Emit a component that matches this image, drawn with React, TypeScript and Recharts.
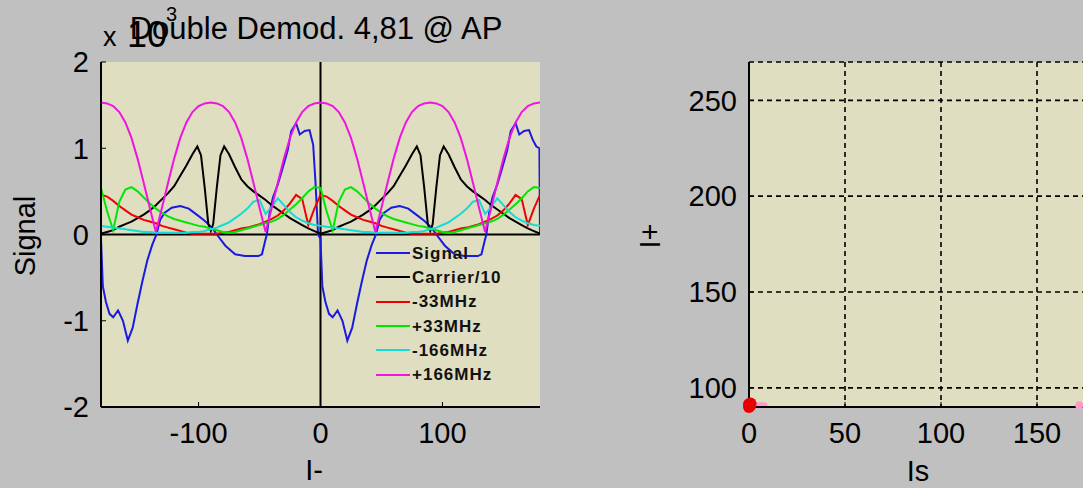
import React from 'react';
import {
  LineChart, Line, XAxis, YAxis, CartesianGrid, ReferenceLine, Legend,
  ComposedChart, Scatter,
} from 'recharts';

const FONT = '"Liberation Sans", Arial, sans-serif';
const PAGE_BG = '#c0c0c0';
const PLOT_BG = '#dfdec0';

// x grid (step 5) for the smooth sideband curves
const gridX = [
  -180, -175, -170, -165, -160, -155, -150, -145, -140, -135, -130, -125, -120, -115, -110, -105, -100, -95, -90,
  -85, -80, -75, -70, -65, -60, -55, -50, -45, -40, -35, -30, -25, -20, -15, -10, -5, 0,
  5, 10, 15, 20, 25, 30, 35, 40, 45, 50, 55, 60, 65, 70, 75, 80, 85, 90,
  95, 100, 105, 110, 115, 120, 125, 130, 135, 140, 145, 150, 155, 160, 165, 170, 175, 180,
];

const minus33 = [
  0.46, 0.44, 0.39, 0.33, 0.28, 0.23, 0.20, 0.17, 0.15, 0.13, 0.10, 0.08, 0.06, 0.04, 0.02, 0.01, 0.01, 0.01, 0.01,
  0.01, 0.02, 0.03, 0.05, 0.07, 0.08, 0.10, 0.12, 0.15, 0.18, 0.22, 0.28, 0.36, 0.46, 0.41, 0.11, 0.30, 0.46,
  0.44, 0.39, 0.33, 0.28, 0.23, 0.20, 0.17, 0.15, 0.13, 0.10, 0.08, 0.06, 0.04, 0.02, 0.01, 0.01, 0.01, 0.01,
  0.01, 0.02, 0.03, 0.05, 0.07, 0.08, 0.10, 0.12, 0.15, 0.18, 0.22, 0.28, 0.36, 0.46, 0.41, 0.11, 0.30, 0.46,
];

const plus33 = [
  0.54, 0.27, 0.05, 0.38, 0.52, 0.55, 0.50, 0.43, 0.36, 0.30, 0.25, 0.21, 0.18, 0.16, 0.14, 0.12, 0.10, 0.09, 0.07,
  0.05, 0.03, 0.02, 0.03, 0.05, 0.07, 0.09, 0.11, 0.13, 0.15, 0.18, 0.23, 0.29, 0.35, 0.42, 0.50, 0.55, 0.54,
  0.27, 0.05, 0.38, 0.52, 0.55, 0.50, 0.43, 0.36, 0.30, 0.25, 0.21, 0.18, 0.16, 0.14, 0.12, 0.10, 0.09, 0.07,
  0.05, 0.03, 0.02, 0.03, 0.05, 0.07, 0.09, 0.11, 0.13, 0.15, 0.18, 0.23, 0.29, 0.35, 0.42, 0.50, 0.55, 0.54,
];

const minus166 = [
  0.10, 0.09, 0.08, 0.07, 0.06, 0.05, 0.04, 0.03, 0.03, 0.02, 0.02, 0.02, 0.02, 0.02, 0.02, 0.03, 0.03, 0.04, 0.06,
  0.08, 0.11, 0.14, 0.19, 0.24, 0.30, 0.38, 0.40, 0.24, 0.32, 0.42, 0.34, 0.26, 0.20, 0.16, 0.13, 0.11, 0.10,
  0.09, 0.08, 0.07, 0.06, 0.05, 0.04, 0.03, 0.03, 0.02, 0.02, 0.02, 0.02, 0.02, 0.02, 0.03, 0.03, 0.04, 0.06,
  0.08, 0.11, 0.14, 0.19, 0.24, 0.30, 0.38, 0.40, 0.24, 0.32, 0.42, 0.34, 0.26, 0.20, 0.16, 0.13, 0.11, 0.10,
];

const plus166 = [
  1.53, 1.52, 1.49, 1.42, 1.30, 1.12, 0.88, 0.60, 0.31, 0.03, 0.31, 0.60, 0.88, 1.12, 1.30, 1.42, 1.49, 1.52, 1.53,
  1.52, 1.49, 1.42, 1.30, 1.12, 0.88, 0.60, 0.31, 0.03, 0.31, 0.60, 0.88, 1.12, 1.30, 1.42, 1.49, 1.52, 1.53,
  1.52, 1.49, 1.42, 1.30, 1.12, 0.88, 0.60, 0.31, 0.03, 0.31, 0.60, 0.88, 1.12, 1.30, 1.42, 1.49, 1.52, 1.53,
  1.52, 1.49, 1.42, 1.30, 1.12, 0.88, 0.60, 0.31, 0.03, 0.31, 0.60, 0.88, 1.12, 1.30, 1.42, 1.49, 1.52, 1.53,
];

// carrier has a narrow notch between its two peaks, so it gets its own x values
const carrierX = [
  -180, -175, -170, -165, -160, -155, -150, -145, -140, -135, -130, -125, -120, -115, -110, -105, -101, -98, -95, -92,
  -90, -88, -85, -82, -79, -75, -70, -65, -60, -55, -50, -45, -40, -35, -30, -25, -20, -15, -10, -5, 0,
  5, 10, 15, 20, 25, 30, 35, 40, 45, 50, 55, 60, 65, 70, 75, 79, 82, 85, 88,
  90, 92, 95, 98, 101, 105, 110, 115, 120, 125, 130, 135, 140, 145, 150, 155, 160, 165, 170, 175, 180,
];
const carrierY = [
  0.01, 0.03, 0.05, 0.09, 0.12, 0.15, 0.19, 0.23, 0.28, 0.34, 0.41, 0.48, 0.56, 0.68, 0.80, 0.93, 1.02, 0.92, 0.55, 0.12,
  0.04, 0.12, 0.55, 0.92, 1.02, 0.93, 0.78, 0.64, 0.56, 0.50, 0.45, 0.40, 0.34, 0.29, 0.24, 0.19, 0.15, 0.11, 0.07, 0.04, 0.01,
  0.03, 0.05, 0.09, 0.12, 0.15, 0.19, 0.23, 0.28, 0.34, 0.41, 0.48, 0.56, 0.68, 0.80, 0.93, 1.02, 0.92, 0.55, 0.12,
  0.04, 0.12, 0.55, 0.92, 1.02, 0.93, 0.78, 0.64, 0.56, 0.50, 0.45, 0.40, 0.34, 0.29, 0.24, 0.19, 0.15, 0.11, 0.07, 0.04, 0.01,
];

const signalX = [
  -180, -178.5, -176, -173, -170, -166, -162, -158, -154, -150, -146, -142, -138, -134.5, -131.5,
  -128, -122, -115, -108, -101.5, -95, -89, -85, -78, -70, -62, -51, -48, -45.5, -44,
  -41.5, -39, -35, -31, -27, -24, -20, -17, -13, -9, -6, -4, -2,
  0, 1.5, 4, 7, 10, 14, 18, 22, 26, 30, 34, 38, 42, 45.5, 48.5,
  52, 58, 65, 72, 78.5, 85, 91, 95, 102, 110, 118, 129, 132, 134.5, 136,
  138.5, 141, 145, 149, 153, 156, 160, 163, 167, 171, 174, 177, 179.5, 180,
];
const signalY = [
  -0.05, -0.60, -0.78, -0.92, -0.96, -0.88, -1.00, -1.23, -1.08, -0.80, -0.54, -0.30, -0.12, 0.00, 0.17,
  0.25, 0.31, 0.33, 0.30, 0.23, 0.16, 0.08, 0.00, -0.13, -0.23, -0.25, -0.25, -0.23, -0.08, 0.00,
  0.27, 0.43, 0.58, 0.77, 0.97, 1.20, 1.29, 1.16, 1.20, 1.21, 1.04, 0.58, 0.00,
  -0.05, -0.60, -0.78, -0.92, -0.96, -0.88, -1.00, -1.23, -1.08, -0.80, -0.54, -0.30, -0.12, 0.00, 0.17,
  0.25, 0.31, 0.33, 0.30, 0.23, 0.16, 0.08, 0.00, -0.13, -0.23, -0.25, -0.25, -0.23, -0.08, 0.00,
  0.27, 0.43, 0.58, 0.77, 0.97, 1.20, 1.29, 1.16, 1.20, 1.21, 1.10, 1.02, 1.00, 0.00,
];

const leftXTicks = [-100, 0, 100];
const leftYTicks = [-2, -1, 0, 1, 2];

// right panel: Is vs I+
const isTicks = [0, 50, 100, 150];
const ipTicks = [100, 150, 200, 250];
const redBlobX = [0, 0.6, 0, 0.8];
const redBlobY = [91.4, 90.6, 90.0, 91.8];
const pinkSegX = [0, 8];
const pinkSegY = [90.9, 90.9];
const pinkDotX = [172];
const pinkDotY = [90.9];

const zip = (xs: number[], ys: number[]) => xs.map((x, i) => ({ x, y: ys[i] }));

const series = [
  { name: 'Signal', color: '#1a1ae0', data: zip(signalX, signalY) },
  { name: 'Carrier/10', color: '#000000', data: zip(carrierX, carrierY) },
  { name: '-33MHz', color: '#f00000', data: zip(gridX, minus33) },
  { name: '+33MHz', color: '#00e600', data: zip(gridX, plus33) },
  { name: '-166MHz', color: '#12dcd4', data: zip(gridX, minus166) },
  { name: '+166MHz', color: '#f014e0', data: zip(gridX, plus166) },
];
const legendOrder = series.map((s) => s.name);

const tickStyle = { fill: '#000', fontSize: 29 };
const boxLine = { stroke: '#000', strokeWidth: 2 };

const LegendBox = (props: any) => {
  const items = [...(props.payload || [])].sort(
    (a: any, b: any) => legendOrder.indexOf(a.value) - legendOrder.indexOf(b.value),
  );
  return (
    <div style={{ fontFamily: FONT, fontSize: 17, fontWeight: 600, letterSpacing: 1, color: '#111' }}>
      {items.map((it: any) => (
        <div key={it.value} style={{ display: 'flex', alignItems: 'center', height: 24.3 }}>
          <svg width={34} height={4} style={{ display: 'block' }}>
            <line x1={0} y1={2} x2={34} y2={2} stroke={it.color} strokeWidth={2} />
          </svg>
          <span style={{ marginLeft: 2, lineHeight: 1 }}>{it.value}</span>
        </div>
      ))}
    </div>
  );
};

const txt = (extra: React.CSSProperties): React.CSSProperties => ({
  position: 'absolute', fontFamily: FONT, color: '#000', lineHeight: 1, whiteSpace: 'nowrap', ...extra,
});

export default function App() {
  return (
    <div style={{ position: 'fixed', left: 0, top: 0, width: 1083, height: 488, overflow: 'hidden', background: PAGE_BG, fontFamily: FONT }}>
      <div style={{ position: 'absolute', left: 0, top: 0 }}>
        <LineChart width={560} height={488} margin={{ top: 62, right: 20, bottom: 41, left: 0 }}>
          <CartesianGrid horizontal={false} vertical={false} fill={PLOT_BG} />
          <XAxis dataKey="x" type="number" domain={[-180, 180]} allowDataOverflow ticks={leftXTicks}
            height={40} tickSize={-5} tickMargin={20} axisLine={boxLine} tickLine={{ stroke: '#000' }} tick={tickStyle} />
          <XAxis xAxisId="top" orientation="top" type="number" domain={[-180, 180]} allowDataOverflow ticks={leftXTicks}
            height={0} tickSize={-5} tick={false} axisLine={boxLine} tickLine={{ stroke: '#000' }} />
          <YAxis type="number" domain={[-2, 2]} allowDataOverflow ticks={leftYTicks} width={101}
            tickSize={-5} tickMargin={17} axisLine={boxLine} tickLine={{ stroke: '#000' }} tick={tickStyle} />
          <YAxis yAxisId="right" orientation="right" type="number" domain={[-2, 2]} allowDataOverflow ticks={leftYTicks}
            width={0} tickSize={-5} tick={false} axisLine={boxLine} tickLine={{ stroke: '#000' }} />
          <ReferenceLine x={0} stroke="#000" strokeWidth={2} />
          <ReferenceLine y={0} stroke="#000" strokeWidth={2} />
          {series.map((s) => (
            <Line key={s.name} data={s.data} dataKey="y" name={s.name} stroke={s.color} strokeWidth={2}
              dot={false} type="linear" isAnimationActive={false} />
          ))}
          <Legend content={LegendBox} layout="vertical" align="center" verticalAlign="middle"
            wrapperStyle={{ left: 376, top: 241, width: 'auto' }} />
        </LineChart>
      </div>

      <div style={{ position: 'absolute', left: 600, top: 0 }}>
        <ComposedChart width={600} height={488} margin={{ top: 62, right: 67, bottom: 41, left: 49 }}>
          <CartesianGrid strokeDasharray="5 4" stroke="#000" strokeWidth={1.6} fill={PLOT_BG} />
          <XAxis dataKey="x" type="number" domain={[0, 200]} ticks={isTicks}
            height={40} tickSize={-5} tickMargin={20} axisLine={boxLine} tickLine={{ stroke: '#000' }} tick={tickStyle} />
          <XAxis xAxisId="top" orientation="top" type="number" domain={[0, 200]} ticks={isTicks}
            height={0} tickSize={-5} tick={false} axisLine={boxLine} tickLine={{ stroke: '#000' }} />
          <YAxis type="number" domain={[90, 270]} ticks={ipTicks} width={100}
            tickSize={-5} tickMargin={17} axisLine={boxLine} tickLine={{ stroke: '#000' }} tick={tickStyle} />
          <Scatter data={zip(redBlobX, redBlobY)} dataKey="y" isAnimationActive={false}
            shape={(p: any) => <circle cx={p.cx} cy={p.cy} r={6} fill="#e80000" />} />
          <Line data={zip(pinkSegX, pinkSegY)} dataKey="y" stroke="#ff9acb" strokeWidth={6} strokeLinecap="round"
            dot={false} isAnimationActive={false} legendType="none" />
          <Scatter data={zip(pinkDotX, pinkDotY)} dataKey="y" isAnimationActive={false}
            shape={(p: any) => <circle cx={p.cx} cy={p.cy} r={4} fill="#ff9acb" />} />
        </ComposedChart>
      </div>

      <div style={txt({ left: 0, width: 632, top: 13, fontSize: 31, textAlign: 'center' })}>Double Demod. 4,81 @ AP</div>
      <div style={txt({ left: 103, top: 24, fontSize: 27 })}>x</div>
      <div style={txt({ left: 127, top: 17, fontSize: 36 })}>10</div>
      <div style={txt({ left: 166, top: 4, fontSize: 20 })}>3</div>
      <div style={txt({ left: 25, top: 236, fontSize: 29, transform: 'translate(-50%, -50%) rotate(-90deg)' })}>Signal</div>
      <div style={txt({ left: 314, top: 456, fontSize: 29, transform: 'translateX(-50%)' })}>I-</div>
      <div style={txt({ left: 918, top: 457, fontSize: 29, transform: 'translateX(-50%)' })}>Is</div>
      <div style={txt({ left: 650, top: 236, fontSize: 29, transform: 'translate(-50%, -50%) rotate(-90deg)' })}>I+</div>
    </div>
  );
}
